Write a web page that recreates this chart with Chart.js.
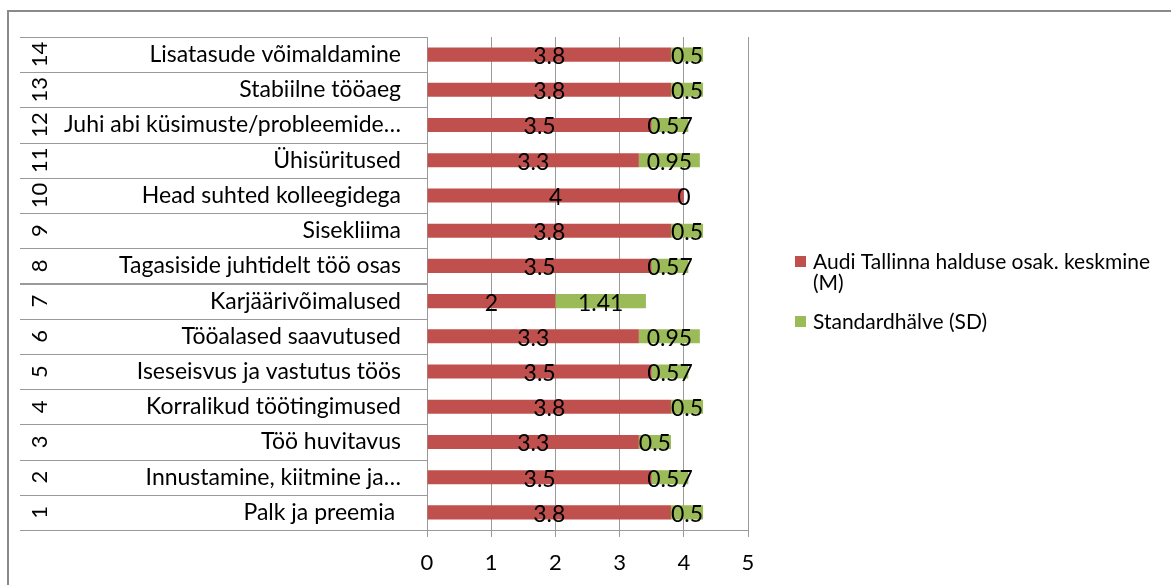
<!DOCTYPE html>
<html>
<head>
<meta charset="utf-8">
<script src="https://cdn.jsdelivr.net/npm/chart.js@4"></script>
<style>
  html, body { margin: 0; padding: 0; background: #fff; }
  canvas { display: block; }
</style>
</head>
<body>
<canvas id="chart" width="1171" height="585"></canvas>
<script>
const categories = [
    'Palk ja preemia ',
    'Innustamine, kiitmine ja…',
    'Töö huvitavus',
    'Korralikud töötingimused',
    'Iseseisvus ja vastutus töös',
    'Tööalased saavutused',
    'Karjäärivõimalused',
    'Tagasiside juhtidelt töö osas',
    'Sisekliima',
    'Head suhted kolleegidega',
    'Ühisüritused',
    'Juhi abi küsimuste/probleemide…',
    'Stabiilne tööaeg',
    'Lisatasude võimaldamine'
];
const rowNumbers = ['1', '2', '3', '4', '5', '6', '7', '8', '9', '10', '11', '12', '13', '14'];
const meanValues = [3.8, 3.5, 3.3, 3.8, 3.5, 3.3, 2, 3.5, 3.8, 4, 3.3, 3.5, 3.8, 3.8];
const sdValues = [0.5, 0.57, 0.5, 0.5, 0.57, 0.95, 1.41, 0.57, 0.5, 0, 0.95, 0.57, 0.5, 0.5];
const seriesNames = ['Audi Tallinna halduse osak. keskmine (M)', 'Standardhälve (SD)'];
const xMin = 0, xMax = 5, xStep = 1;

const FONT = 'Lato';
const gridGrey = '#9a9a9a';

// frame, row numbers, row separators, bar labels and the legend
const extras = {
    id : 'extras',
    beforeDraw(chart) {
        const ctx = chart.ctx;
        ctx.save();
        ctx.strokeStyle = '#8a8a8a';
        ctx.lineWidth = 2;
        ctx.strokeRect(8, 11, 1200, 700);
        ctx.restore();
    },
    afterDraw(chart) {
        const ctx = chart.ctx;
        const area = chart.chartArea;
        const y = chart.scales.y;
        const half = Math.abs(y.getPixelForValue(1) - y.getPixelForValue(0)) / 2;

        ctx.save();
        // separators in the label area
        ctx.strokeStyle = gridGrey;
        ctx.lineWidth = 1;
        for (let i = 0; i < categories.length; i++) {
            const c = y.getPixelForValue(i);
            [c - half, c + half].forEach(p => {
                ctx.beginPath();
                ctx.moveTo(20, Math.round(p) + 0.5);
                ctx.lineTo(area.left, Math.round(p) + 0.5);
                ctx.stroke();
            });
        }
        // rotated row numbers
        ctx.fillStyle = '#000';
        ctx.font = '22px ' + FONT;
        ctx.textAlign = 'center';
        ctx.textBaseline = 'middle';
        rowNumbers.forEach((n, i) => {
            ctx.save();
            ctx.translate(39, y.getPixelForValue(i));
            ctx.rotate(-Math.PI / 2);
            ctx.fillText(n, 0, 1);
            ctx.restore();
        });
        // value labels in the bars
        ctx.font = '23px ' + FONT;
        chart.data.datasets.forEach((ds, di) => {
            chart.getDatasetMeta(di).data.forEach((bar, i) => {
                const cx = (bar.x + bar.base) / 2;
                ctx.fillText(String(ds.data[i]), cx, bar.y + 2);
            });
        });
        // legend
        ctx.font = '21px ' + FONT;
        ctx.textAlign = 'left';
        let ly = 262;
        chart.data.datasets.forEach(ds => {
            ctx.fillStyle = ds.backgroundColor;
            ctx.fillRect(795, ly - 6, 11, 11);
            ctx.fillStyle = '#000';
            const words = ds.label.split(' ');
            let line = '';
            const lines = [];
            words.forEach(w => {
                const t = line ? line + ' ' + w : w;
                if (ctx.measureText(t).width > 345 && line) {
                    lines.push(line);
                    line = w;
                } else {
                    line = t;
                }
            });
            lines.push(line);
            lines.forEach((l, k) => ctx.fillText(l, 813, ly + k * 21));
            ly += lines.length * 21 + 18;
        });
        ctx.restore();
    }
};

const ctx = document.getElementById('chart').getContext('2d');
const chart = new Chart(ctx, {
    type : 'bar',
    data : {
        labels : categories,
        datasets : [{
            label : seriesNames[0],
            data : meanValues,
            backgroundColor : '#C0504D',
            barPercentage : 0.4,
            categoryPercentage : 1
        }, {
            label : seriesNames[1],
            data : sdValues,
            backgroundColor : '#9BBB59',
            barPercentage : 0.4,
            categoryPercentage : 1
        }]
    },
    options : {
        indexAxis : 'y',
        responsive : false,
        animation : false,
        devicePixelRatio : 1,
        layout : { padding : { top : 37, right : 423, left : 0, bottom : 0 } },
        plugins : {
            legend : { display : false },
            tooltip : { enabled : false }
        },
        scales : {
            x : {
                stacked : true,
                min : xMin,
                max : xMax,
                ticks : {
                    stepSize : xStep,
                    color : '#000',
                    font : { family : FONT, size : 22 },
                    padding : 13
                },
                grid : { color : gridGrey, tickLength : 7, drawTicks : true },
                border : { color : gridGrey },
                afterFit(s) { s.height = 55; }
            },
            y : {
                stacked : true,
                reverse : true,
                ticks : {
                    color : '#000',
                    font : { family : FONT, size : 23 },
                    padding : 18
                },
                grid : { display : false },
                border : { color : gridGrey },
                afterFit(s) { s.width = 427; }
            }
        }
    },
    plugins : [extras]
});
</script>
</body>
</html>
